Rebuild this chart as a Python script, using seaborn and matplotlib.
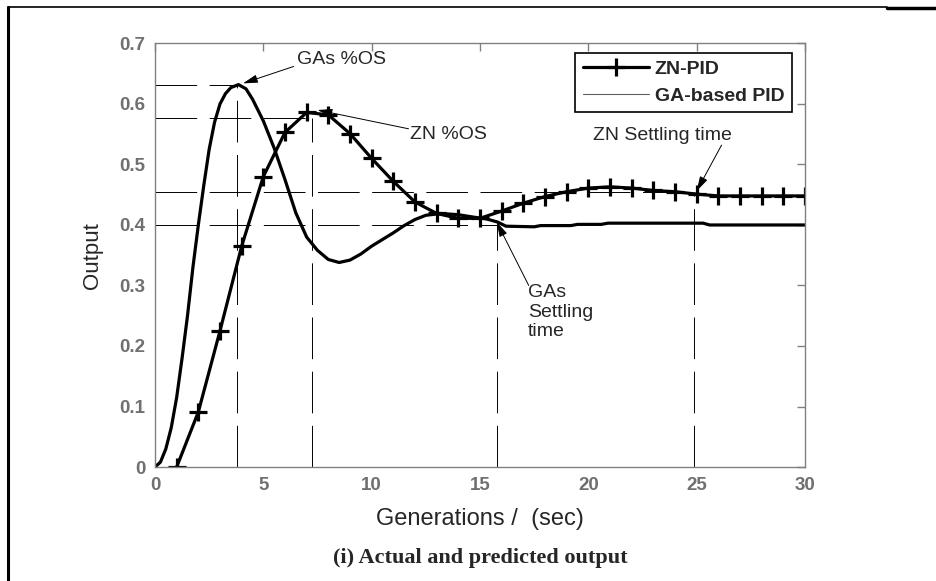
import pandas as pd
import matplotlib
matplotlib.use("Agg")
import matplotlib.pyplot as plt
import seaborn as sns
from matplotlib.lines import Line2D

# ZN-PID response, one + marker per second
zn_t = list(range(1, 31))
zn_out = [0.000, 0.091, 0.225, 0.365, 0.480, 0.553, 0.586, 0.582, 0.551, 0.510,
          0.472, 0.438, 0.419, 0.411, 0.411, 0.423, 0.436, 0.447, 0.455, 0.461,
          0.463, 0.461, 0.457, 0.455, 0.451, 0.448, 0.448, 0.448, 0.448, 0.448]

# GA-based PID response
ga_t = [0, 0.25, 0.5, 0.75, 1.0, 1.25, 1.5, 1.75, 2.0, 2.25, 2.5, 2.75, 3.0, 3.25,
        3.5, 3.85, 4.2, 4.5, 4.75, 5.0, 5.5, 6.0, 6.5, 7.0, 7.5, 8.0, 8.5, 9.0,
        9.5, 10.0, 10.5, 11.0, 11.5, 12.0, 12.5, 13.2, 14.0, 14.7, 15.3, 15.8,
        16.2, 17.5, 17.8, 19.2, 19.5, 20.6, 20.9, 25.3, 25.6, 30]
ga_out = [0.000, 0.008, 0.030, 0.065, 0.115, 0.180, 0.250, 0.330, 0.400, 0.465,
          0.525, 0.570, 0.600, 0.617, 0.627, 0.632, 0.625, 0.608, 0.590, 0.572,
          0.527, 0.475, 0.420, 0.380, 0.358, 0.343, 0.338, 0.342, 0.352, 0.365,
          0.376, 0.387, 0.399, 0.409, 0.416, 0.419, 0.417, 0.413, 0.410, 0.405,
          0.398, 0.397, 0.399, 0.399, 0.401, 0.401, 0.403, 0.403, 0.400, 0.400]

# reference (dashed) lines: overshoot peaks and settling points
ref_x = [3.77, 7.26, 15.77, 24.9]
ref_y = [0.632, 0.577, 0.400, 0.455]

df_zn = pd.DataFrame({"t": zn_t, "out": zn_out})
df_ga = pd.DataFrame({"t": ga_t, "out": ga_out})

sns.set_style("white")
plt.rcParams["font.family"] = ["Liberation Sans", "DejaVu Sans"]
plt.rcParams["lines.scale_dashes"] = False

fig = plt.figure(figsize=(9.36, 5.81), dpi=100)
ax = fig.add_axes([0.1656, 0.1962, 0.6944, 0.729])

dash = (0, (30, 9))
for xv, yv in zip(ref_x, ref_y):
    ax.plot([0, xv], [yv, yv], color="black", lw=0.7, linestyle=dash)
    ax.plot([xv, xv], [0, yv], color="black", lw=0.7, linestyle=dash)

sns.lineplot(data=df_ga, x="t", y="out", ax=ax, color="black", lw=2.3)
sns.lineplot(data=df_zn, x="t", y="out", ax=ax, color="black", lw=2.3,
             marker="+", markersize=13, markeredgewidth=2.3,
             markeredgecolor="black")

ax.set_xlim(0, 30)
ax.set_ylim(0, 0.7)
ax.set_xticks(range(0, 31, 5))
ax.set_yticks([0, 0.1, 0.2, 0.3, 0.4, 0.5, 0.6, 0.7])
ax.set_yticklabels(["0", "0.1", "0.2", "0.3", "0.4", "0.5", "0.6", "0.7"])
for s in ax.spines.values():
    s.set_color("#808080")
    s.set_linewidth(1.0)
ax.tick_params(direction="in", top=True, right=True, length=6, width=1,
               color="#808080", labelcolor="#707070", labelsize=13.5, pad=7)
for lab in ax.get_xticklabels() + ax.get_yticklabels():
    lab.set_fontweight("bold")

ax.set_xlabel("Generations /  (sec)", fontsize=17, labelpad=10)
ax.set_ylabel("Output", fontsize=16, labelpad=12)

# annotation arrows
arr = dict(arrowstyle="-|>,head_length=0.9,head_width=0.25", color="black",
           lw=0.7, shrinkA=0, shrinkB=0)
ax.annotate("", xy=(4.06, 0.634), xytext=(6.4, 0.662), arrowprops=arr)
ax.text(6.55, 0.673, "GAs %OS", fontsize=14, ha="left", va="center")

ax.annotate("", xy=(7.5, 0.590), xytext=(11.7, 0.559), arrowprops=arr)
ax.text(11.75, 0.549, "ZN %OS", fontsize=14, ha="left", va="center")

ax.annotate("", xy=(25.0, 0.456), xytext=(26.15, 0.532), arrowprops=arr)
ax.text(23.4, 0.548, "ZN Settling time", fontsize=14, ha="center", va="center")

ax.annotate("", xy=(15.77, 0.405), xytext=(17.25, 0.300), arrowprops=arr)
ax.text(17.2, 0.302, "GAs\nSettling\ntime", fontsize=14, ha="left", va="top",
        linespacing=1.2)

handles = [Line2D([], [], color="black", lw=2.3, marker="+", markersize=13,
                  markeredgewidth=2.3),
           Line2D([], [], color="#606060", lw=0.8)]
leg = ax.legend(handles, ["ZN-PID", "GA-based PID"], loc="upper right",
                bbox_to_anchor=(0.98, 0.978), frameon=True, fancybox=False,
                framealpha=1, edgecolor="black", borderaxespad=0,
                handlelength=3.4, handletextpad=0.3, borderpad=0.4,
                labelspacing=0.45, prop=dict(weight="bold", size=14))
leg.get_frame().set_linewidth(1.2)

fig.text(0.513, 0.022, "(i) Actual and predicted output", ha="center", va="bottom",
         fontsize=16, fontweight="bold", family=["Liberation Serif", "DejaVu Serif"])

# outer frame of the figure panel
fig.add_artist(Line2D([0.009, 0.009], [0.0, 0.988], color="black", lw=2.2))
fig.add_artist(Line2D([0.009, 0.948], [0.988, 0.988], color="black", lw=1.2))
fig.add_artist(Line2D([0.948, 1.0], [0.986, 0.986], color="black", lw=2.5))

fig.savefig("out.png", dpi=100)
